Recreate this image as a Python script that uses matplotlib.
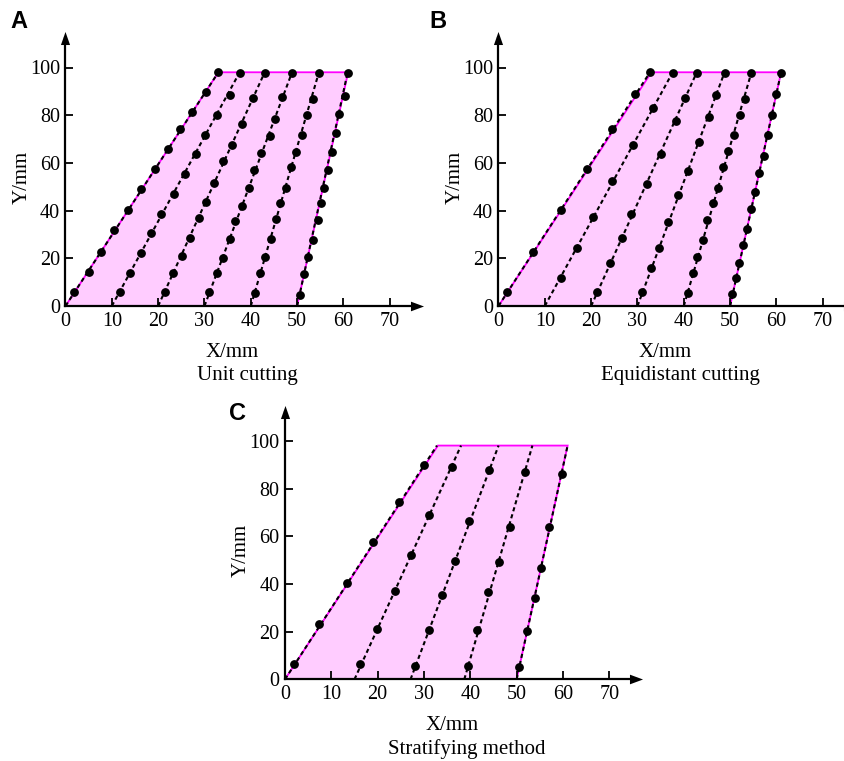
import matplotlib
matplotlib.use("Agg")
import matplotlib.pyplot as plt
from matplotlib.path import Path

# ---------------- data ----------------
TOP_Y = 98
TRAP_X = [0, 33.0, 61.0, 50]
TRAP_Y = [0, TOP_Y, TOP_Y, 0]

# Panel A: Unit cutting
A_bottom_x = [0, 10, 20, 30, 40, 50]
A_top_x = [33.0, 37.6, 43.0, 48.9, 54.7, 60.9]
A1x = [1.9, 5.0, 7.6, 10.4, 13.5, 16.3, 19.3, 22.1, 24.8, 27.4, 30.4, 33.0]
A1y = [6.0, 14.1, 22.8, 31.9, 40.3, 49.1, 57.4, 65.7, 74.2, 81.3, 89.7, 98.0]
A2x = [11.7, 13.9, 16.4, 18.4, 20.7, 23.4, 25.9, 28.1, 30.2, 32.8, 35.4, 37.6]
A2y = [6.0, 14.0, 22.1, 30.7, 38.6, 47.0, 55.2, 63.6, 71.7, 80.0, 88.6, 97.8]
A3x = [21.4, 23.2, 25.2, 26.8, 28.8, 30.4, 32.0, 33.9, 35.9, 38.0, 40.4, 43.0]
A3y = [6.0, 13.7, 21.1, 28.6, 36.8, 43.7, 51.6, 60.9, 67.5, 76.2, 87.1, 97.8]
A4x = [31.0, 32.6, 34.0, 35.4, 36.6, 38.1, 39.5, 40.7, 42.1, 44.1, 45.3, 46.8, 48.9]
A4y = [5.8, 13.9, 20.3, 28.0, 35.6, 42.1, 49.4, 57.1, 64.0, 71.2, 78.6, 87.6, 97.8]
A5x = [40.8, 42.0, 43.0, 44.3, 45.5, 46.4, 47.7, 48.6, 49.7, 51.1, 52.2, 53.4, 54.7]
A5y = [5.3, 13.7, 20.7, 28.1, 36.3, 43.1, 49.6, 58.4, 64.7, 71.7, 80.1, 86.8, 97.8]
A6x = [50.6, 51.5, 52.3, 53.4, 54.4, 55.1, 55.8, 56.7, 57.6, 58.4, 59.1, 60.3, 60.9]
A6y = [4.6, 13.3, 20.4, 27.7, 36.1, 43.1, 49.4, 57.0, 64.6, 72.7, 80.4, 88.2, 97.6]

# Panel B: Equidistant cutting
B_bottom_x = [0, 10, 20, 30, 40, 50]
B_top_x = [32.7, 37.6, 42.8, 48.8, 54.6, 61.0]
B1x = [1.9, 7.5, 13.5, 19.0, 24.6, 29.5, 32.7]
B1y = [6.0, 22.8, 40.3, 57.4, 74.2, 88.8, 98.0]
B2x = [13.4, 16.9, 20.5, 24.4, 29.0, 33.4, 37.6]
B2y = [11.9, 24.4, 37.4, 52.5, 67.4, 82.9, 97.8]
B3x = [21.3, 24.1, 26.6, 28.7, 32.0, 35.0, 38.3, 40.3, 42.8]
B3y = [6.0, 17.9, 28.6, 38.4, 51.2, 63.7, 77.7, 87.1, 97.8]
B4x = [30.9, 32.9, 34.6, 36.6, 38.8, 41.0, 43.3, 45.4, 46.9, 48.8]
B4y = [5.9, 15.8, 24.3, 35.3, 46.4, 56.8, 68.9, 79.1, 88.3, 97.9]
B5x = [40.8, 41.9, 42.8, 44.1, 45.1, 46.4, 47.4, 48.5, 49.6, 50.8, 52.1, 53.2, 54.6]
B5y = [5.3, 13.7, 20.7, 27.7, 36.1, 43.1, 49.6, 58.4, 65.1, 71.7, 80.1, 86.8, 97.8]
B6x = [50.5, 51.3, 52.0, 52.7, 53.6, 54.5, 55.4, 56.2, 57.2, 58.1, 59.0, 60.0, 61.0]
B6y = [5.2, 11.9, 18.1, 25.4, 32.4, 40.7, 47.8, 55.8, 63.0, 71.8, 79.9, 89.0, 97.9]

# Panel C: Stratifying method
C_bottom_x = [0, 15.0, 27.1, 38.7, 50]
C_top_x = [32.8, 38.0, 46.1, 53.4, 61.0]
C1x = [1.9, 7.4, 13.3, 19.1, 24.6, 30.0]
C1y = [6.3, 23.0, 40.5, 57.7, 74.4, 89.8]
C2x = [16.2, 19.9, 23.8, 27.3, 31.1, 36.1]
C2y = [6.4, 21.1, 37.0, 52.1, 68.9, 89.1]
C3x = [28.1, 31.1, 33.8, 36.7, 39.8, 44.1]
C3y = [5.7, 20.7, 35.3, 49.6, 66.3, 87.7]
C4x = [39.4, 41.5, 43.9, 46.1, 48.5, 51.7]
C4y = [5.7, 20.7, 36.5, 49.0, 64.0, 87.0]
C5x = [50.5, 52.3, 53.9, 55.3, 57.0, 59.8]
C5y = [5.0, 20.3, 34.2, 46.8, 63.7, 86.0]

X_TICKS = [0, 10, 20, 30, 40, 50, 60, 70]
Y_TICKS = [0, 20, 40, 60, 80, 100]

# ---------------- drawing ----------------
W, H = 845, 761
fig = plt.figure(figsize=(W / 100, H / 100), dpi=100)
SERIF = ["Liberation Serif", "DejaVu Serif"]
XMAX, YMAX = 75.8, 112.2
SX, SY = 4.633, 2.385

UP = Path([(-0.35, -0.5), (0, 0.5), (0.35, -0.5), (-0.35, -0.5)],
          [Path.MOVETO, Path.LINETO, Path.LINETO, Path.CLOSEPOLY])
RIGHT = Path([(-0.5, -0.37), (0.5, 0), (-0.5, 0.37), (-0.5, -0.37)],
             [Path.MOVETO, Path.LINETO, Path.LINETO, Path.CLOSEPOLY])


def panel(x0px, y0px, bottoms, tops, pts, subtitle, letter, letter_xy):
    ax = fig.add_axes([x0px / W, (H - y0px) / H, XMAX * SX / W, YMAX * SY / H])
    ax.set_xlim(0, XMAX)
    ax.set_ylim(0, YMAX)
    ax.patch.set_alpha(0)
    for s in ("top", "right"):
        ax.spines[s].set_visible(False)
    for s in ("left", "bottom"):
        ax.spines[s].set_linewidth(1.6)
        ax.spines[s].set_zorder(6)
    ax.fill(TRAP_X, TRAP_Y, facecolor="#FFCCFF", edgecolor="#FF00FF", lw=1.3, zorder=1)
    for b, t in zip(bottoms, tops):
        ax.plot([b, t], [0, TOP_Y], color="black", lw=1.5, ls=(0, (2.0, 1.5)), zorder=3)
    for xs, ys in pts:
        ax.plot(xs, ys, ls="none", marker="o", ms=5.3, color="black", zorder=4, clip_on=False)
    ax.set_xticks(X_TICKS)
    ax.set_yticks(Y_TICKS)
    ax.tick_params(direction="in", length=5.5, width=1.3, pad=4, labelsize=14.5)
    for lab in ax.get_xticklabels() + ax.get_yticklabels():
        lab.set_fontfamily(SERIF)
    # arrows
    ax.plot(0, 1, marker=UP, ms=9.4, color="black", mew=0, transform=ax.transAxes,
            clip_on=False, zorder=7)
    ax.plot(1, 0, marker=RIGHT, ms=9.4, color="black", mew=0, transform=ax.transAxes,
            clip_on=False, zorder=7)
    ax.text(-9.4, 54, "Y/mm", rotation=90, ha="center", va="center", fontsize=15, family=SERIF)
    ax.text(36, -19.4, "X/mm", ha="center", va="center", fontsize=15, family=SERIF)
    ax.text(39.3, -29.2, subtitle, ha="center", va="center", fontsize=15, family=SERIF)
    fig.text(letter_xy[0] / W, 1 - letter_xy[1] / H, letter, ha="center", va="center",
             fontsize=17, fontweight="bold", family=["Liberation Sans", "DejaVu Sans"])
    return ax


panel(65.5, 306, A_bottom_x, A_top_x,
      [(A1x, A1y), (A2x, A2y), (A3x, A3y), (A4x, A4y), (A5x, A5y), (A6x, A6y)],
      "Unit cutting", "A", (19, 21.5))
panel(498.5, 306, B_bottom_x, B_top_x,
      [(B1x, B1y), (B2x, B2y), (B3x, B3y), (B4x, B4y), (B5x, B5y), (B6x, B6y)],
      "Equidistant cutting", "B", (438, 21.5))
panel(285, 679.3, C_bottom_x, C_top_x,
      [(C1x, C1y), (C2x, C2y), (C3x, C3y), (C4x, C4y), (C5x, C5y)],
      "Stratifying method", "C", (238, 413))

fig.savefig("out.png", dpi=100)
